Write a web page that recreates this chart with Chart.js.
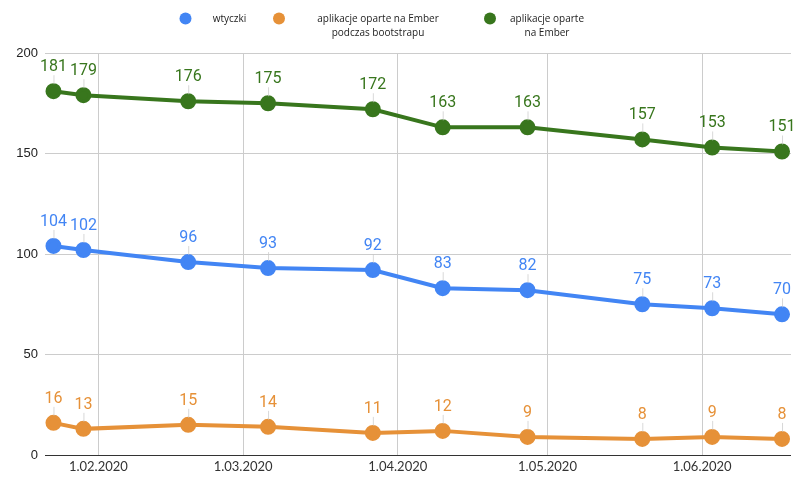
<!DOCTYPE html>
<html>
<head>
<meta charset="utf-8">
<script src="https://cdn.jsdelivr.net/npm/chart.js@4.4.1/dist/chart.umd.min.js"></script>
<style>
  html, body { margin: 0; padding: 0; background: #fff; }
  #wrap { width: 809px; height: 482px; position: relative; }
</style>
</head>
<body>
<div id="wrap"><canvas id="c" width="809" height="482"></canvas></div>
<script>
// ---- Data ----
const dates = ['2020-01-23','2020-01-29','2020-02-19','2020-03-06','2020-03-27','2020-04-10','2020-04-27','2020-05-20','2020-06-03','2020-06-17'];
const wtyczki = [104, 102, 96, 93, 92, 83, 82, 75, 73, 70];
const bootstrapApps = [16, 13, 15, 14, 11, 12, 9, 8, 9, 8];
const emberApps = [181, 179, 176, 175, 172, 163, 163, 157, 153, 151];
const seriesLabels = [['wtyczki'], ['aplikacje oparte na Ember', 'podczas bootstrapu'], ['aplikacje oparte', 'na Ember']];
const xTickDates = ['2020-02-01','2020-03-01','2020-04-01','2020-05-01','2020-06-01'];
const yTicks = [0, 50, 100, 150, 200];

const DAY = 86400000;
const toDay = s => Date.UTC(+s.slice(0,4), +s.slice(5,7)-1, +s.slice(8,10)) / DAY;
const fmtDay = d => { const dt = new Date(d * DAY); return dt.getUTCDate() + '.' + String(dt.getUTCMonth()+1).padStart(2,'0') + '.' + dt.getUTCFullYear(); };
const xs = dates.map(toDay);
const xTickVals = xTickDates.map(toDay);

const colors = ['#4285F4', '#E69138', '#38761D'];
const mk = (vals, i) => ({
  label: seriesLabels[i].join(' '),
  data: vals.map((v, k) => ({ x: xs[k], y: v })),
  borderColor: colors[i], backgroundColor: colors[i],
  pointBackgroundColor: colors[i], pointBorderColor: colors[i],
  borderWidth: 4, pointRadius: 6, pointHoverRadius: 6, tension: 0
});

const labelPlugin = {
  id: 'valueLabels',
  afterDatasetsDraw(chart) {
    const ctx = chart.ctx;
    ctx.save();
    chart.data.datasets.forEach((ds, di) => {
      const meta = chart.getDatasetMeta(di);
      meta.data.forEach((pt, k) => {
        const x = pt.x, y = pt.y;
        ctx.strokeStyle = 'rgba(200,200,200,0.7)';
        ctx.lineWidth = 1;
        ctx.beginPath(); ctx.moveTo(x + 0.5, y - 16); ctx.lineTo(x + 0.5, y - 7); ctx.stroke();
        ctx.fillStyle = ds.borderColor;
        ctx.font = '16px Roboto';
        ctx.textAlign = 'center'; ctx.textBaseline = 'middle';
        ctx.fillText(String(ds.data[k].y), x, y - 24);
      });
    });
    ctx.restore();
  }
};

const legendPlugin = {
  id: 'customLegend',
  afterDraw(chart) {
    const ctx = chart.ctx;
    const items = [ {dot: 185.5, cx: 229.5}, {dot: 279, cx: 378}, {dot: 490, cx: 547} ];
    ctx.save();
    items.forEach((it, i) => {
      ctx.fillStyle = colors[i];
      ctx.beginPath(); ctx.arc(it.dot, 18.5, 6, 0, Math.PI * 2); ctx.fill();
      ctx.fillStyle = '#222';
      ctx.font = '10px "Open Sans"';
      ctx.textAlign = 'center'; ctx.textBaseline = 'middle';
      seriesLabels[i].forEach((line, li) => ctx.fillText(line, it.cx, 19 + li * 14));
    });
    ctx.restore();
  }
};

new Chart(document.getElementById('c'), {
  type: 'line',
  data: { datasets: [mk(wtyczki, 0), mk(bootstrapApps, 1), mk(emberApps, 2)] },
  options: {
    responsive: false, animation: false,
    layout: { padding: { top: 53, right: 18, left: 0, bottom: 0 } },
    plugins: { legend: { display: false }, tooltip: { enabled: false } },
    scales: {
      x: {
        type: 'linear',
        min: toDay('2020-01-21') + 0.3, max: toDay('2020-06-18') + 0.8,
        afterBuildTicks: s => { s.ticks = xTickVals.map(v => ({ value: v })); },
        afterFit: s => { s.height = 27; },
        ticks: { callback: v => fmtDay(v), color: '#333', font: { family: 'Lato', size: 13 }, padding: 4, maxRotation: 0, autoSkip: false },
        grid: { color: '#ccc', drawTicks: false, lineWidth: 1 },
        border: { display: false }
      },
      y: {
        min: 0, max: 200,
        afterBuildTicks: s => { s.ticks = yTicks.map(v => ({ value: v })); },
        afterFit: s => { s.width = 45; },
        ticks: { color: '#222', font: { family: 'Liberation Sans', size: 13 }, padding: 7 },
        grid: { color: c => c.tick && c.tick.value === 0 ? '#333' : '#ccc', drawTicks: false, lineWidth: 1 },
        border: { display: false }
      }
    }
  },
  plugins: [labelPlugin, legendPlugin]
});
</script>
</body>
</html>
